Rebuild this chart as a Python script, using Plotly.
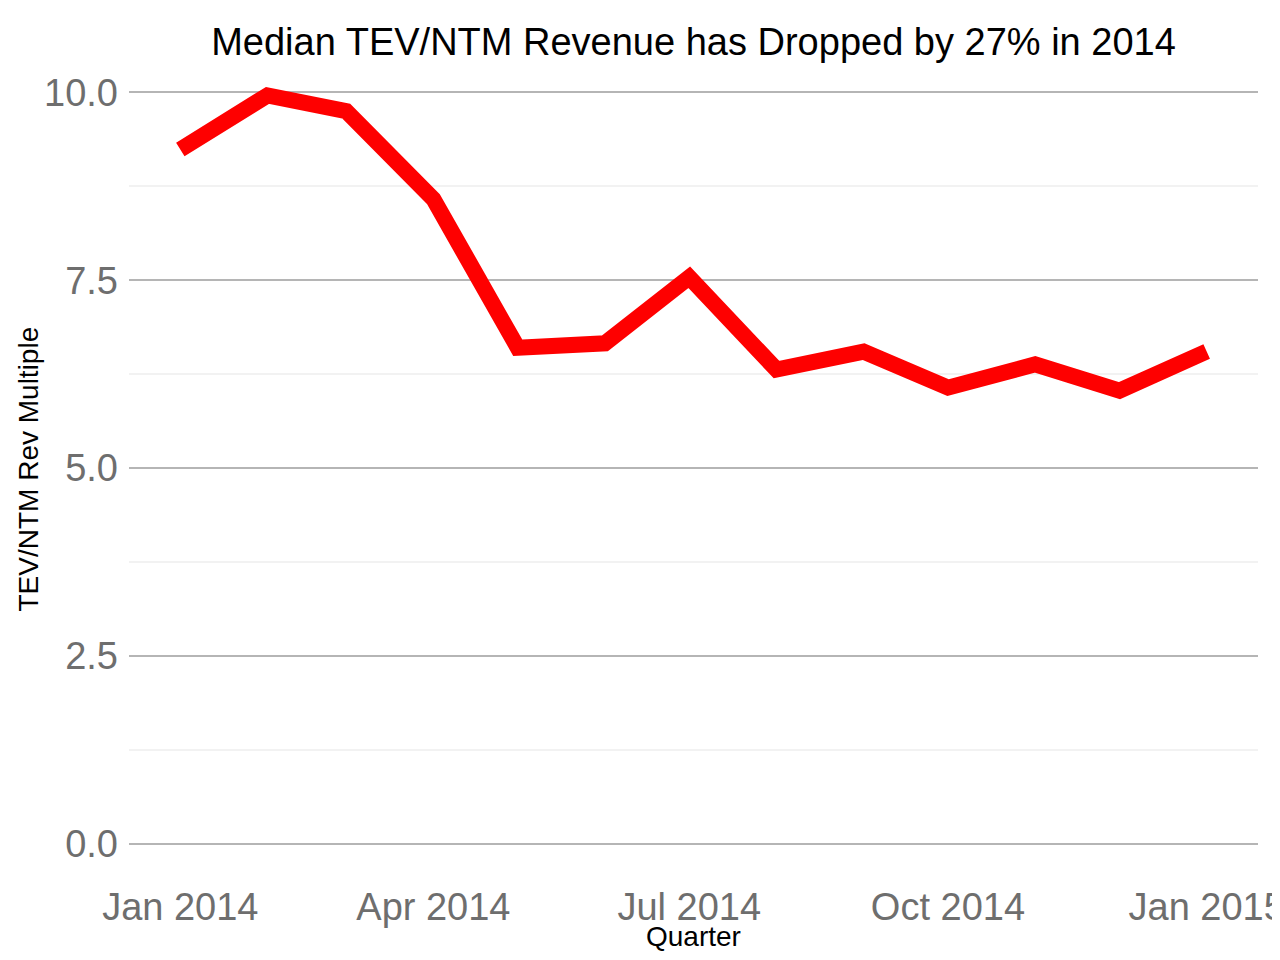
import pandas as pd
import plotly.graph_objects as go

# Médiane du multiple TEV/NTM Revenue, un point par mois
months = pd.date_range("2014-01-01", "2015-01-01", freq="MS")
multiples = [9.24, 9.96, 9.75, 8.58, 6.60, 6.66, 7.54, 6.31, 6.55, 6.07, 6.38, 6.03, 6.55]

x_ticks = pd.to_datetime(["2014-01-01", "2014-04-01", "2014-07-01", "2014-10-01", "2015-01-01"])
x_tick_labels = ["Jan 2014", "Apr 2014", "Jul 2014", "Oct 2014", "Jan 2015"]
y_ticks = [0, 2.5, 5, 7.5, 10]

# marges façon ggplot (5 %)
span = months[-1] - months[0]
x_range = [months[0] - span * 0.05, months[-1] + span * 0.05]
y_top = max(multiples)
y_range = [-0.05 * y_top, y_top * 1.05]

font = "Liberation Sans"
W, H = 1280, 960
# la page ajoute 8 px de marge au body
L, R, T, B = 121, 30, 50, 87

fig = go.Figure()
fig.add_trace(go.Scatter(
    x=months,
    y=multiples,
    mode="lines",
    line=dict(color="#fe0000", width=16),
    showlegend=False,
))

# fines lignes blanches verticales qui coupent la grille
for t in x_ticks:
    fig.add_shape(type="line", xref="x", yref="paper", x0=t, x1=t, y0=0, y1=1,
                  line=dict(color="white", width=2), layer="between")

# titres des axes
fig.add_annotation(text="Quarter", xref="paper", yref="paper",
                   x=0.5, y=-(928 - (H - B)) / (H - T - B), xanchor="center", yanchor="middle",
                   showarrow=False, font=dict(size=28, color="black", family=font))
fig.add_annotation(text="TEV/NTM Rev Multiple", xref="paper", yref="paper",
                   x=-(L - 20) / (W - L - R), y=0.5, xanchor="center", yanchor="middle",
                   textangle=-90, showarrow=False,
                   font=dict(size=28, color="black", family=font))

fig.update_layout(
    width=W,
    height=H,
    paper_bgcolor="white",
    plot_bgcolor="white",
    margin=dict(l=L, r=R, t=T, b=B),
    font=dict(family=font),
    title=dict(
        text="Median TEV/NTM Revenue has Dropped by 27% in 2014",
        x=(L + (W - R)) / 2 / W, xanchor="center",
        y=1 - 34 / H, yanchor="middle", yref="container",
        font=dict(size=38, color="black", family=font),
    ),
)

fig.update_xaxes(
    range=x_range,
    tickvals=x_ticks,
    ticktext=x_tick_labels,
    tickfont=dict(size=38, color="#6e6e6e"),
    ticklabeloverflow="allow",
    showgrid=False,
    zeroline=False,
    showline=False,
    ticks="",
    automargin=False,
)

fig.update_yaxes(
    range=y_range,
    tickvals=y_ticks,
    tickformat=".1f",
    tickfont=dict(size=38, color="#6e6e6e"),
    showgrid=True,
    gridcolor="#b5b5b5",
    gridwidth=1.5,
    minor=dict(tick0=0, dtick=1.25, showgrid=True, gridcolor="#f2f2f2", gridwidth=1.5),
    zeroline=False,
    showline=False,
    ticks="",
    ticklabelstandoff=10,
    automargin=False,
)

fig.write_html("out.html")
